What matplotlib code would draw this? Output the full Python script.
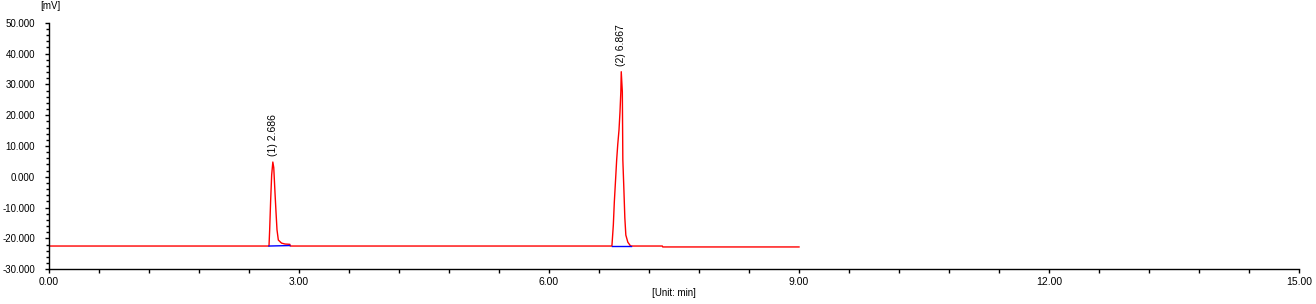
import matplotlib
matplotlib.use("Agg")
import matplotlib.pyplot as plt
from matplotlib.ticker import MultipleLocator, FormatStrFormatter

plt.rcParams['font.family'] = ['Liberation Sans', 'DejaVu Sans']

# Chromatogram trace (time in min, signal in mV)
trace_time = [0.00, 2.640, 2.648, 2.660, 2.672, 2.686, 2.697, 2.712, 2.724, 2.736, 2.752,
              2.790, 2.832, 2.890, 2.895,
              6.755, 6.772, 6.784, 6.800, 6.812, 6.825, 6.840, 6.852, 6.862, 6.867,
              6.880, 6.886, 6.898, 6.910, 6.922, 6.946, 6.975, 6.985,
              7.360, 7.365, 9.000]
trace_mv = [-22.45, -22.45, -17.2, -7.5, 0.6, 4.8, 3.0, -5.2, -11.4, -17.2, -20.5,
            -21.5, -21.8, -21.9, -22.45,
            -22.45, -15.6, -8.1, -0.4, 5.5, 10.5, 15.2, 21.1, 27.6, 34.1,
            27.6, 5.5, -3.6, -13.3, -18.9, -21.2, -22.3, -22.45,
            -22.45, -22.75, -22.75]

# Integration baselines (blue)
base1_time = [2.640, 2.890]
base1_mv = [-22.45, -22.3]
base2_time = [6.755, 6.985]
base2_mv = [-22.45, -22.45]

# Peak annotations
peak_time = [2.686, 6.867]
peak_mv = [4.8, 34.1]
peak_labels = ["(1) 2.686", "(2) 6.867"]

fig = plt.figure(figsize=(13.16, 3.04), dpi=100)
ax = fig.add_axes([49/1316, 1-269.3/304, 1250/1316, (269.3-22.7)/304])

ax.plot(trace_time, trace_mv, color='#FF0000', lw=1.0)
ax.plot(base1_time, base1_mv, color='#0000FF', lw=1.0)
ax.plot(base2_time, base2_mv, color='#0000FF', lw=1.0)

for t, v, lab in zip(peak_time, peak_mv, peak_labels):
    ax.annotate(lab, (t, v), xytext=(0, 4), textcoords='offset points',
                rotation=90, ha='center', va='bottom', fontsize=7.5)

ax.set_xlim(0, 15)
ax.set_ylim(-30, 50)
ax.xaxis.set_major_locator(MultipleLocator(3))
ax.xaxis.set_minor_locator(MultipleLocator(0.6))
ax.yaxis.set_major_locator(MultipleLocator(10))
ax.yaxis.set_minor_locator(MultipleLocator(2))
ax.xaxis.set_major_formatter(FormatStrFormatter('%.2f'))
ax.yaxis.set_major_formatter(FormatStrFormatter('%.3f'))

for s in ['top', 'right']:
    ax.spines[s].set_visible(False)
for s in ['left', 'bottom']:
    ax.spines[s].set_linewidth(1.0)
    ax.spines[s].set_color('black')

ax.tick_params(axis='x', which='both', direction='out', length=3, width=1.0,
               pad=2.5, labelsize=7.5)
ax.tick_params(axis='y', which='major', direction='out', length=3, width=1.0,
               pad=7, labelsize=7)
ax.tick_params(axis='y', which='minor', direction='out', length=2, width=1.0)

fig.text(50/1316, 1-6/304, "[mV]", ha='center', va='center', fontsize=7)
fig.text(674/1316, 1-293/304, "[Unit: min]", ha='center', va='center', fontsize=7)

fig.savefig("out.png", dpi=100)
